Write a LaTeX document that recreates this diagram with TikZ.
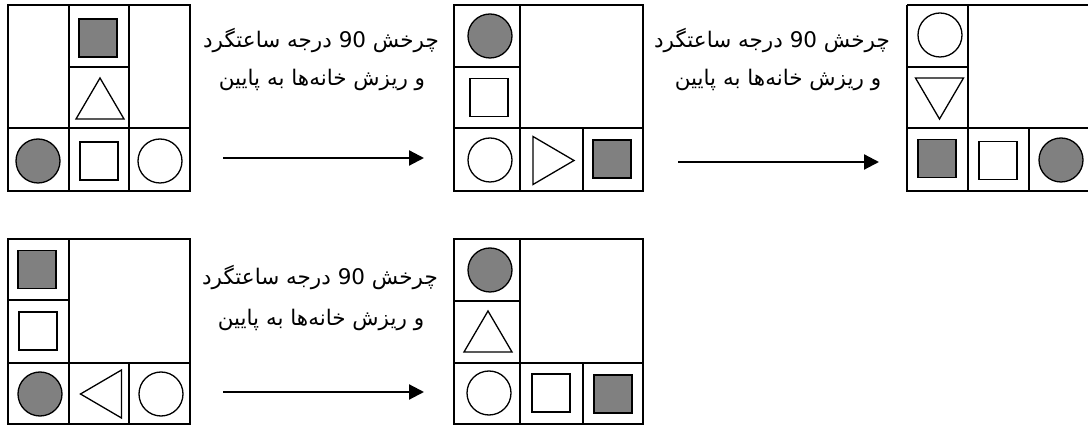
\documentclass[tikz,border=0pt]{standalone}
\usepackage{fontspec}
\usetikzlibrary{arrows.meta}
\TeXXeTstate=1
\newfontfamily\arabicfont[Script=Arabic]{DejaVu Sans}
\definecolor{shade}{HTML}{808080}
\tikzset{
  gridline/.style={line width=2.2pt, draw=black},
  shp/.style={line width=1.3pt, draw=black},
  gshp/.style={shp, fill=shade},
  caption/.style={inner sep=0pt, font=\arabicfont\fontsize{21.5}{24}\selectfont},
  flow/.style={line width=2.2pt, -{Triangle[length=15pt,width=15pt]}}
}
% shapes: centre x, centre y
\newcommand\GSq[2]{\draw[gshp] ({#1-19},{#2-19}) rectangle ({#1+19},{#2+19});}
\newcommand\WSq[2]{\draw[shp] ({#1-19},{#2-19}) rectangle ({#1+19},{#2+19});}
\newcommand\GCirc[2]{\draw[gshp] (#1,#2) circle[radius=22pt];}
\newcommand\WCirc[2]{\draw[shp] (#1,#2) circle[radius=22pt];}
\newcommand\TriUp[2]{\draw[shp,line join=miter] ({#1},{#2-20.5}) -- ({#1+24},{#2+20.5}) -- ({#1-24},{#2+20.5}) -- cycle;}
\newcommand\TriDown[2]{\draw[shp,line join=miter] ({#1},{#2+20.5}) -- ({#1+24},{#2-20.5}) -- ({#1-24},{#2-20.5}) -- cycle;}
\newcommand\TriRight[2]{\draw[shp,line join=miter] ({#1+20.5},{#2}) -- ({#1-20.5},{#2-24}) -- ({#1-20.5},{#2+24}) -- cycle;}
\newcommand\TriLeft[2]{\draw[shp,line join=miter] ({#1-20.5},{#2}) -- ({#1+20.5},{#2-24}) -- ({#1+20.5},{#2+24}) -- cycle;}
\begin{document}
\begin{tikzpicture}[x=1pt,y=-1pt]
\useasboundingbox (0,0) rectangle (1088,427);
\clip (0,0) rectangle (1088,427);
\fill[white] (0,0) rectangle (1088,427);

% ---------- grid 1 ----------
\draw[gridline] (8,5) rectangle (190,191);
\draw[gridline] (69,5) -- (69,191) (129,5) -- (129,191) (8,128) -- (190,128) (69,67) -- (129,67);
\GSq{98}{38}
\TriUp{100}{98.5}
\GCirc{38}{161}
\WSq{99}{161}
\WCirc{160}{161}

% ---------- grid 2 ----------
\draw[gridline] (454,5) rectangle (643,191);
\draw[gridline] (520,5) -- (520,191) (454,128) -- (643,128) (454,67) -- (520,67) (583,128) -- (583,191);
\GCirc{490}{36}
\WSq{489}{97.5}
\WCirc{490}{160}
\TriRight{553.5}{160.5}
\GSq{612}{159}

% ---------- grid 3 (cut off at the right edge) ----------
\draw[gridline] (907,5) -- (1092,5) (907,5) -- (907,191) -- (1092,191);
\draw[gridline] (968,5) -- (968,191) (907,128) -- (1092,128) (907,67) -- (968,67) (1029,128) -- (1029,191);
\WCirc{940}{35}
\TriDown{939.5}{98.5}
\GSq{937}{158.5}
\WSq{998}{160.5}
\GCirc{1061}{160}

% ---------- grid 4 ----------
\draw[gridline] (8,239) rectangle (190,424);
\draw[gridline] (69,239) -- (69,424) (8,363) -- (190,363) (8,300) -- (69,300) (129,363) -- (129,424);
\GSq{37}{269.5}
\WSq{38}{331}
\GCirc{40}{394}
\TriLeft{101}{394}
\WCirc{161}{394}

% ---------- grid 5 ----------
\draw[gridline] (454,239) rectangle (643,424);
\draw[gridline] (520,239) -- (520,424) (454,363) -- (643,363) (454,301) -- (520,301) (583,363) -- (583,424);
\GCirc{490}{270}
\TriUp{488}{331.5}
\WCirc{489}{393}
\WSq{551}{393}
\GSq{613}{394}

% ---------- captions ----------
\node[caption] (t1a) at (321,40) {\beginR چرخش \beginL 90\endL{} درجه ساعتگرد\endR};
\node[caption] (t1b) at (322,80) {\beginR و ریزش خانه‌ها به پایین\endR};
\node[caption] (t2a) at (772,40) {\beginR چرخش \beginL 90\endL{} درجه ساعتگرد\endR};
\node[caption] (t2b) at (778,80) {\beginR و ریزش خانه‌ها به پایین\endR};
\node[caption] (t3a) at (320,277) {\beginR چرخش \beginL 90\endL{} درجه ساعتگرد\endR};
\node[caption] (t3b) at (321,320) {\beginR و ریزش خانه‌ها به پایین\endR};

% ---------- arrows ----------
\coordinate (a1s) at (223,158); \coordinate (a1e) at (424,158);
\coordinate (a2s) at (678,162); \coordinate (a2e) at (879,162);
\coordinate (a3s) at (223,392); \coordinate (a3e) at (424,392);
\draw[flow] (a1s) -- (a1e);
\draw[flow] (a2s) -- (a2e);
\draw[flow] (a3s) -- (a3e);
\end{tikzpicture}
\end{document}
